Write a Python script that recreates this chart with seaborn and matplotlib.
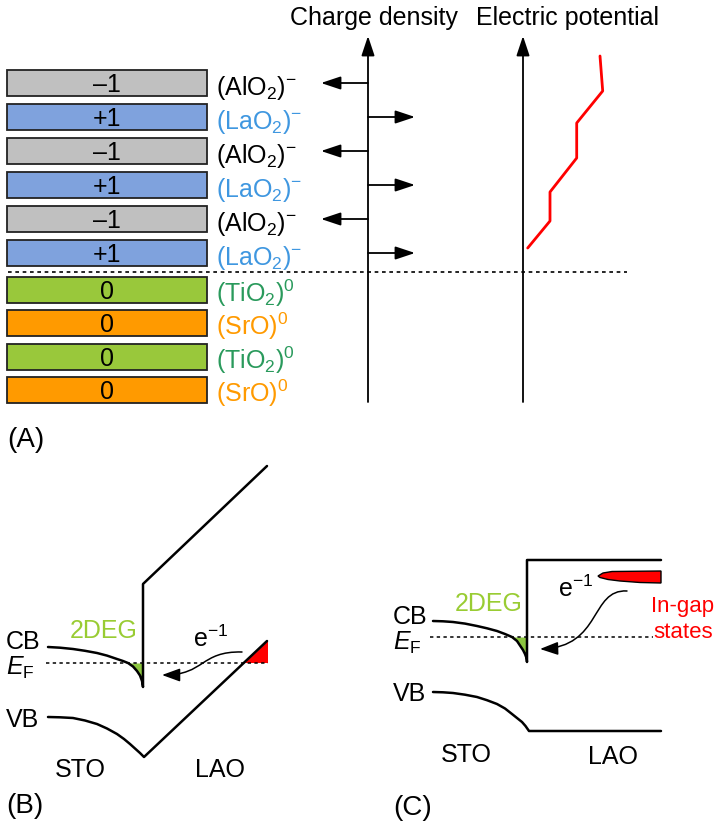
import numpy as np
import matplotlib
matplotlib.use('Agg')
import matplotlib.pyplot as plt
import seaborn as sns
from matplotlib.patches import FancyArrowPatch, Polygon
from matplotlib.path import Path

# ---------------- data ----------------
layer_formulas = [r'(AlO$_2$)$^{-}$', r'(LaO$_2$)$^{-}$', r'(AlO$_2$)$^{-}$', r'(LaO$_2$)$^{-}$',
                  r'(AlO$_2$)$^{-}$', r'(LaO$_2$)$^{-}$', r'(TiO$_2$)$^{0}$', r'(SrO)$^{0}$',
                  r'(TiO$_2$)$^{0}$', r'(SrO)$^{0}$']
layer_charges = ['–1', '+1', '–1', '+1', '–1', '+1', '0', '0', '0', '0']
layer_species = ['AlO2', 'LaO2', 'AlO2', 'LaO2', 'AlO2', 'LaO2', 'TiO2', 'SrO', 'TiO2', 'SrO']
charge_sign = [-1, 1, -1, 1, -1, 1, 0, 0, 0, 0]

species_fill = {'AlO2': '#c0c0c0', 'LaO2': '#7fa2dd', 'TiO2': '#99c83b', 'SrO': '#ff9a00'}
species_text = {'AlO2': 'black', 'LaO2': '#3f97e0', 'TiO2': '#2a9a5c', 'SrO': '#ff9a00'}

potential_x = [527.7, 550, 550, 576.7, 576.7, 602.7, 600]
potential_y = [249, 222, 193, 159, 124, 92, 57]

# panel B band diagram
B_cb_x = [48, 60, 73, 85, 97, 107, 117, 123, 128, 133, 137, 140, 142, 143, 143, 267]
B_cb_y = [648, 648.7, 650, 651.8, 654, 656.6, 660, 662, 664, 667.5, 672, 676.5, 682, 688, 585, 467]
B_vb_x = [48, 60, 73, 85, 97, 107, 117, 124, 130, 135, 140, 144, 267]
B_vb_y = [718, 718.3, 719, 721.5, 725, 729.5, 735, 740, 745, 749.5, 754, 758, 642]
B_ef = 664

# panel C band diagram
C_cb_x = [433, 443, 453, 465, 477, 487, 497, 505, 512, 517, 520, 523, 525, 526.5, 527, 527, 661]
C_cb_y = [622, 622.3, 623, 624.6, 627, 629.3, 632, 635, 638, 642, 646.5, 651, 655, 659, 663, 561, 561]
C_vb_x = [433, 443, 453, 465, 477, 487, 497, 505, 512, 517, 522, 525.5, 529, 661]
C_vb_y = [693, 693.3, 694, 695.7, 698, 701.2, 705, 709.5, 715, 719, 723, 727, 732, 732]
C_ef = 638

# ---------------- style ----------------
sns.set_theme(style='white')
plt.rcParams['font.family'] = ['Liberation Sans', 'DejaVu Sans']
plt.rcParams['text.color'] = 'black'
plt.rcParams['mathtext.fontset'] = 'custom'
plt.rcParams['mathtext.rm'] = 'Liberation Sans'
plt.rcParams['mathtext.it'] = 'Liberation Sans:italic'
plt.rcParams['mathtext.bf'] = 'Liberation Sans:bold'

FS = 18
fig = plt.figure(figsize=(7.16, 8.29), dpi=100)
ax = fig.add_axes([0, 0, 1, 1])
ax.set_xlim(0, 716)
ax.set_ylim(829, 0)
ax.axis('off')


def arrow(x0, y0, x1, y1, lw=1.3, hl=0.6, hw=0.2):
    ax.annotate('', xy=(x1, y1), xytext=(x0, y0),
                arrowprops=dict(arrowstyle=f'-|>,head_length={hl},head_width={hw}',
                                color='black', lw=lw, shrinkA=0, shrinkB=0,
                                mutation_scale=20))


def bez_arrow(pts):
    path = Path(pts, [Path.MOVETO, Path.CURVE4, Path.CURVE4, Path.CURVE4])
    p = FancyArrowPatch(path=path, arrowstyle='-|>,head_length=0.55,head_width=0.2',
                        mutation_scale=20, color='black', lw=1.1)
    ax.add_patch(p)


# ---------------- panel A ----------------
centers = [84 + 34 * i for i in range(6)] + [291 + 33.4 * i for i in range(4)]
ax.barh(centers, [200] * 10, left=7, height=26,
        color=[species_fill[s] for s in layer_species], edgecolor='#222222', linewidth=1.3)
for yc, ch, fm, sp, sg in zip(centers, layer_charges, layer_formulas, layer_species, charge_sign):
    ax.text(107, yc + 8, ch, ha='center', va='baseline', fontsize=FS, color='black')
    ax.text(216, yc + 11, fm, ha='left', va='baseline', fontsize=FS, color=species_text[sp])
    if sg != 0:
        arrow(368, yc, 368 + 47 * sg, yc)

ax.plot([8, 627], [273, 273], color='black', lw=1.2, ls=(0, (2.2, 2.2)))
arrow(368, 403, 368, 37)
arrow(523, 403, 523, 37)
ax.text(374, 18, 'Charge density', ha='center', va='center', fontsize=FS)
ax.text(567, 18, 'Electric potential', ha='center', va='center', fontsize=FS)
sns.lineplot(x=potential_x, y=potential_y, sort=False, estimator=None, color='#ff0000',
             lw=2.0, ax=ax)
ax.text(7, 447, '(A)', ha='left', va='baseline', fontsize=20)

# ---------------- panel B ----------------
sns.lineplot(x=B_cb_x, y=B_cb_y, sort=False, estimator=None, color='black', lw=1.8, ax=ax)
sns.lineplot(x=B_vb_x, y=B_vb_y, sort=False, estimator=None, color='black', lw=1.8, ax=ax)
ax.plot([46, 268], [B_ef, B_ef], color='black', lw=1.1, ls=(0, (2.2, 2.2)))
gx = [x for x, y in zip(B_cb_x[:14], B_cb_y[:14]) if y >= B_ef]
gy = [y for x, y in zip(B_cb_x[:14], B_cb_y[:14]) if y >= B_ef]
ax.fill_between(gx, [B_ef] * len(gx), gy, color='#8cc63f', lw=0)
ax.add_patch(Polygon([(245, B_ef), (268, 642), (268, B_ef)], closed=True, color='#ff0000', lw=0))
bez_arrow([(242, 653), (200, 652), (205, 676), (162, 676)])
ax.text(6, 649, 'CB', fontsize=FS, va='baseline')
ax.text(6, 675, r'$\mathit{E}_{\mathrm{F}}$', fontsize=FS, va='baseline')
ax.text(6, 727, 'VB', fontsize=FS, va='baseline')
ax.text(70, 638, '2DEG', fontsize=FS, va='baseline', color='#99cc33')
ax.text(193, 647, r'e$^{-1}$', fontsize=FS, va='baseline')
ax.text(80, 777, 'STO', fontsize=FS, va='baseline', ha='center')
ax.text(220, 777, 'LAO', fontsize=FS, va='baseline', ha='center')
ax.text(6, 813, '(B)', ha='left', va='baseline', fontsize=20)

# ---------------- panel C ----------------
sns.lineplot(x=C_cb_x, y=C_cb_y, sort=False, estimator=None, color='black', lw=1.8, ax=ax)
sns.lineplot(x=C_vb_x, y=C_vb_y, sort=False, estimator=None, color='black', lw=1.8, ax=ax)
ax.plot([430, 653], [C_ef, C_ef], color='black', lw=1.1, ls=(0, (2.2, 2.2)))
gx = [x for x, y in zip(C_cb_x[:15], C_cb_y[:15]) if y >= C_ef]
gy = [y for x, y in zip(C_cb_x[:15], C_cb_y[:15]) if y >= C_ef]
ax.fill_between(gx, [C_ef] * len(gx), gy, color='#8cc63f', lw=0)
horn = [(598, 577), (603, 574), (612, 572.5), (661, 572), (661, 584), (640, 583.5),
        (620, 582), (608, 580.5), (600, 578.5)]
ax.add_patch(Polygon(horn, closed=True, facecolor='#ff0000', edgecolor='black', lw=1.0))
bez_arrow([(627, 592), (590, 590), (602, 648), (540, 650)])
ax.text(393, 624, 'CB', fontsize=FS, va='baseline')
ax.text(393, 650, r'$\mathit{E}_{\mathrm{F}}$', fontsize=FS, va='baseline')
ax.text(393, 701, 'VB', fontsize=FS, va='baseline')
ax.text(455, 611, '2DEG', fontsize=FS, va='baseline', color='#99cc33')
ax.text(558, 597, r'e$^{-1}$', fontsize=FS, va='baseline')
ax.text(683, 612, 'In-gap', fontsize=16, va='baseline', ha='center', color='#ff0000')
ax.text(683, 638, 'states', fontsize=16, va='baseline', ha='center', color='#ff0000')
ax.text(466, 762, 'STO', fontsize=FS, va='baseline', ha='center')
ax.text(613, 764, 'LAO', fontsize=FS, va='baseline', ha='center')
ax.text(393, 815, '(C)', ha='left', va='baseline', fontsize=20)

ax.set_xlim(0, 716)
ax.set_ylim(829, 0)
fig.savefig('out.png', dpi=100)
